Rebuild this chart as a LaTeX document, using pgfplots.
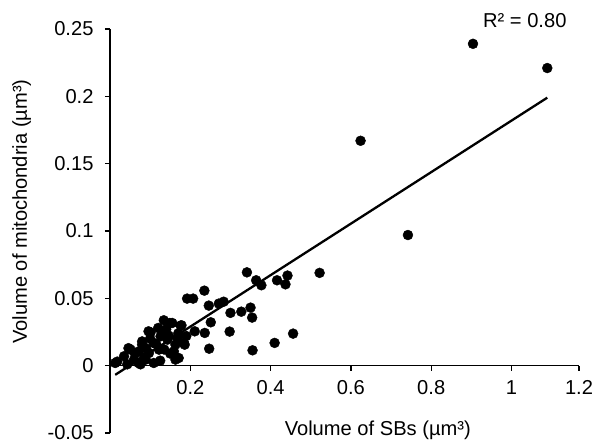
\documentclass[border=0pt]{standalone}
\usepackage{pgfplots}
\pgfplotsset{compat=1.18}
\usepackage{fontspec}
\setmainfont{Liberation Sans}
\begin{document}
\begin{tikzpicture}
\path[use as bounding box] (-110bp,-11bp) rectangle (485bp,433bp);
\begin{axis}[
 at={(0,0)}, anchor=south west,
 scale only axis, width=469bp, height=404bp,
 xmin=0, xmax=1.168, ymin=-0.05, ymax=0.25,
 axis x line=middle, axis y line=left,
 axis line style={-, line width=1.3bp, black},
 hide obscured x ticks=false, hide obscured y ticks=false,
 xtick={0.2,0.4,0.6,0.8,1.0,1.168},
 xticklabels={0.2,0.4,0.6,0.8,1,1.2},
 ytick={-0.05,0,0.05,0.1,0.15,0.2,0.25},
 yticklabels={-0.05,0,0.05,0.1,0.15,0.2,0.25},
 tick align=outside, major tick length=5bp,
 tick style={line width=1.3bp, black},
 minor tick num=0,
 tick label style={font=\fontsize{20.2}{24}\selectfont},
 xticklabel style={yshift=-6bp},
 yticklabel style={xshift=-8bp},
 label style={font=\fontsize{20.2}{24}\selectfont},
 xlabel={Volume of SBs (µm³)},
 ylabel={Volume of mitochondria (µm³)},
 xlabel style={at={(axis description cs:0.571,-0.005)}, anchor=base},
 ylabel style={at={(axis description cs:-0.177,0.548)}, anchor=base},
 clip=false,
]
\addplot[only marks, mark=*, mark size=5pt, black, mark options={draw=black, fill=black}] table {
x y
0.013 0.002
0.018 0.003
0.035 0.007
0.043 0.001
0.046 0.013
0.051 0.012
0.060 0.0045
0.062 0.009
0.071 0.002
0.072 0.0106
0.076 0.001
0.080 0.018
0.080 0.0156
0.085 0.006
0.089 0.0045
0.090 0.013
0.096 0.0255
0.101 0.0247
0.097 0.0094
0.100 0.020
0.109 0.0168
0.109 0.002
0.115 0.016
0.120 0.028
0.122 0.0119
0.125 0.0037
0.126 0.0218
0.130 0.023
0.134 0.0337
0.135 0.012
0.140 0.027
0.143 0.0193
0.146 0.0223
0.149 0.0317
0.150 0.009
0.155 0.0317
0.159 0.0106
0.163 0.0156
0.163 0.0045
0.168 0.0206
0.170 0.024
0.171 0.0057
0.176 0.0297
0.178 0.030
0.184 0.0168
0.186 0.0156
0.190 0.022
0.192 0.0498
0.207 0.0498
0.211 0.0255
0.235 0.0557
0.236 0.0243
0.246 0.0446
0.247 0.0126
0.251 0.0322
0.271 0.0461
0.283 0.0475
0.298 0.0253
0.300 0.0392
0.327 0.0401
0.341 0.0693
0.350 0.0431
0.354 0.0357
0.355 0.0114
0.364 0.0634
0.377 0.0597
0.410 0.0169
0.416 0.0634
0.437 0.0604
0.442 0.0669
0.456 0.0238
0.522 0.0689
0.624 0.167
0.742 0.097
0.904 0.239
1.089 0.221
};
\addplot[black, line width=2.3bp, no marks] coordinates {(0.013,-0.0068) (1.089,0.199)};
\node[anchor=base, font=\fontsize{20.2}{24}\selectfont] at (axis cs:1.033,0.251) {R² = 0.80};
\end{axis}
\end{tikzpicture}
\end{document}
